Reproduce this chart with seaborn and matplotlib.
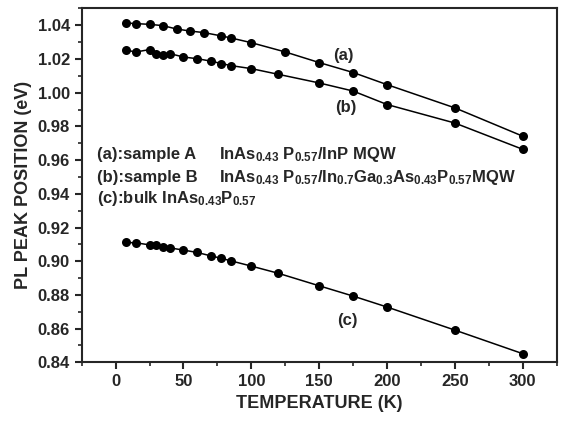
import numpy as np
import pandas as pd
import matplotlib
matplotlib.use('Agg')
import matplotlib.pyplot as plt
import seaborn as sns
from matplotlib.ticker import MultipleLocator

# PL peak positions
temp_a = [8, 15, 25, 35, 45, 55, 65, 78, 85, 100, 125, 150, 175, 200, 250, 300]
peak_a = [1.0414, 1.0410, 1.0406, 1.0398, 1.0378, 1.0366, 1.0357, 1.0337, 1.0325,
          1.0297, 1.0242, 1.0179, 1.0120, 1.0048, 0.9910, 0.9742]

temp_b = [8, 15, 25, 30, 35, 40, 50, 60, 70, 78, 85, 100, 120, 150, 175, 200, 250, 300]
peak_b = [1.0252, 1.0242, 1.0256, 1.0232, 1.0226, 1.0232, 1.0212, 1.0202, 1.0188,
          1.0173, 1.0161, 1.0143, 1.0109, 1.0058, 1.0010, 0.9930, 0.9820, 0.9664]

temp_c = [8, 15, 25, 30, 35, 40, 50, 60, 70, 78, 85, 100, 120, 150, 175, 200, 250, 300]
peak_c = [0.9111, 0.9109, 0.9097, 0.9094, 0.9085, 0.9079, 0.9066, 0.9052, 0.9032,
          0.9017, 0.9002, 0.8971, 0.8928, 0.8854, 0.8793, 0.8728, 0.8591, 0.8451]

df = pd.concat([
    pd.DataFrame({'T': temp_a, 'E': peak_a, 'sample': 'a'}),
    pd.DataFrame({'T': temp_b, 'E': peak_b, 'sample': 'b'}),
    pd.DataFrame({'T': temp_c, 'E': peak_c, 'sample': 'c'}),
])

sns.set_style('ticks')
plt.rcParams['font.family'] = ['Liberation Sans', 'DejaVu Sans']
plt.rcParams['font.weight'] = 'bold'
plt.rcParams['mathtext.fontset'] = 'custom'
plt.rcParams['mathtext.rm'] = 'Liberation Sans:bold'
plt.rcParams['mathtext.it'] = 'Liberation Sans:bold'
plt.rcParams['mathtext.bf'] = 'Liberation Sans:bold'

fig = plt.figure(figsize=(5.61, 4.22), dpi=100)
ax = fig.add_axes([0.1456, 0.1415, 0.8467, 0.8384])

sns.lineplot(data=df, x='T', y='E', hue='sample', palette=['black'] * 3,
             marker='o', markersize=6.5, markeredgewidth=0, linewidth=1.1,
             sort=False, legend=False, ax=ax)

ax.set_xlim(-25, 325)
ax.set_ylim(0.84, 1.05)
ax.xaxis.set_major_locator(MultipleLocator(50))
ax.xaxis.set_minor_locator(MultipleLocator(25))
ax.yaxis.set_major_locator(MultipleLocator(0.02))
ax.yaxis.set_minor_locator(MultipleLocator(0.01))
ax.yaxis.set_major_formatter(plt.FormatStrFormatter('%.2f'))
ax.tick_params(which='major', direction='out', length=5, width=1.5, labelsize=12)
ax.tick_params(which='minor', direction='out', length=3, width=1.2)
for s in ax.spines.values():
    s.set_linewidth(1.5)

ax.set_xlabel('TEMPERATURE (K)', fontsize=13, fontweight='bold')
ax.set_ylabel('PL PEAK POSITION (eV)', fontsize=13, fontweight='bold')

# curve labels
ax.text(168, 1.0222, '(a)', fontsize=12, ha='center', va='center')
ax.text(169.5, 0.9914, '(b)', fontsize=12, ha='center', va='center')
ax.text(170.5, 0.865, '(c)', fontsize=12, ha='center', va='center')

# sample descriptions
ax.text(-14, 0.9609, '(a):sample A', fontsize=12, va='baseline')
ax.text(76.5, 0.9609, r'InAs$_{0.43}$ P$_{0.57}$/InP MQW', fontsize=12, va='baseline')
ax.text(-14, 0.9470, '(b):sample B', fontsize=12, va='baseline')
ax.text(76.5, 0.9470, r'InAs$_{0.43}$ P$_{0.57}$/In$_{0.7}$Ga$_{0.3}$As$_{0.43}$P$_{0.57}$MQW',
        fontsize=12, va='baseline')
ax.text(-14, 0.9343, r'(c):bulk InAs$_{0.43}$P$_{0.57}$', fontsize=12, va='baseline')

fig.savefig('out.png', dpi=100)
